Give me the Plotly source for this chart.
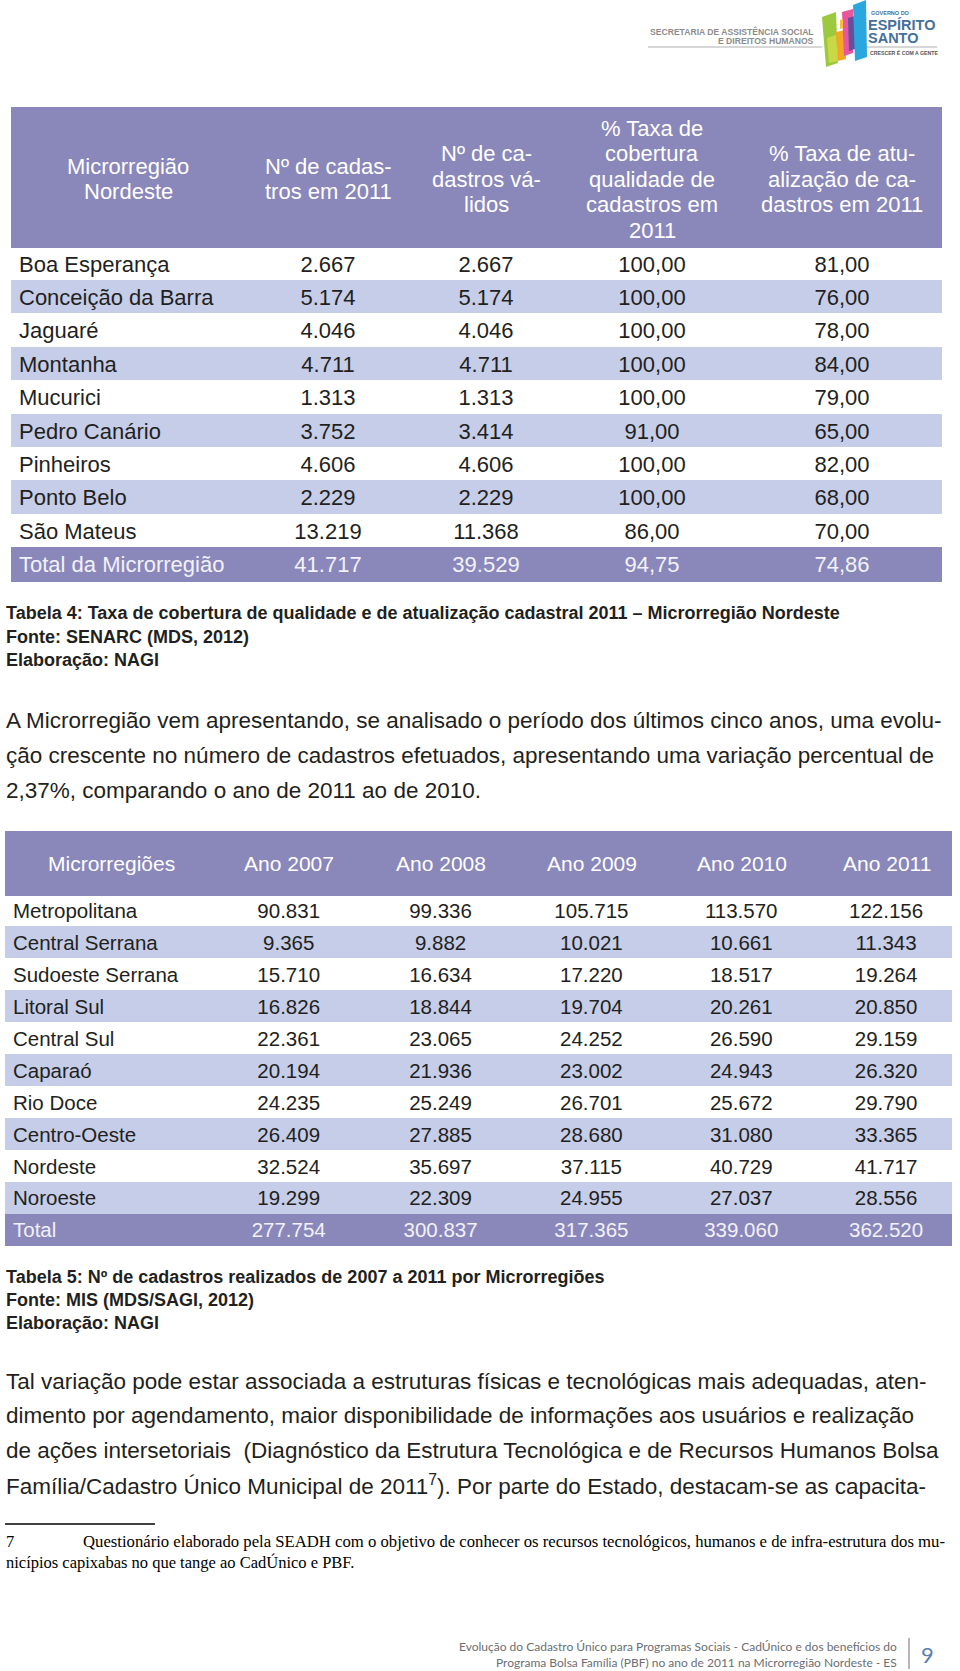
import plotly.graph_objects as go

W, H = 960, 1671

# ---------------- data: Tabela 4 ----------------
t4_headers = ["Microrregião<br>Nordeste", "Nº de cadas-<br>tros em 2011", "Nº de ca-<br>dastros vá-<br>lidos",
              "% Taxa de<br>cobertura<br>qualidade de<br>cadastros em<br>2011",
              "% Taxa de atu-<br>alização de ca-<br>dastros em 2011"]
t4_regions = ["Boa Esperança", "Conceição da Barra", "Jaguaré", "Montanha", "Mucurici", "Pedro Canário",
              "Pinheiros", "Ponto Belo", "São Mateus", "Total da Microrregião"]
t4_cadastros = [2667, 5174, 4046, 4711, 1313, 3752, 4606, 2229, 13219, 41717]
t4_validos = [2667, 5174, 4046, 4711, 1313, 3414, 4606, 2229, 11368, 39529]
t4_cobertura = [100.00, 100.00, 100.00, 100.00, 100.00, 91.00, 100.00, 100.00, 86.00, 94.75]
t4_atualizacao = [81.00, 76.00, 78.00, 84.00, 79.00, 65.00, 82.00, 68.00, 70.00, 74.86]

# ---------------- data: Tabela 5 ----------------
t5_headers = ["Microrregiões", "Ano 2007", "Ano 2008", "Ano 2009", "Ano 2010", "Ano 2011"]
t5_regions = ["Metropolitana", "Central Serrana", "Sudoeste Serrana", "Litoral Sul", "Central Sul", "Caparaó",
              "Rio Doce", "Centro-Oeste", "Nordeste", "Noroeste", "Total"]
t5_2007 = [90831, 9365, 15710, 16826, 22361, 20194, 24235, 26409, 32524, 19299, 277754]
t5_2008 = [99336, 9882, 16634, 18844, 23065, 21936, 25249, 27885, 35697, 22309, 300837]
t5_2009 = [105715, 10021, 17220, 19704, 24252, 23002, 26701, 28680, 37115, 24955, 317365]
t5_2010 = [113570, 10661, 18517, 20261, 26590, 24943, 25672, 31080, 40729, 27037, 339060]
t5_2011 = [122156, 11343, 19264, 20850, 29159, 26320, 29790, 33365, 41717, 28556, 362520]

# ---------------- texts ----------------
cap4 = ["Tabela 4: Taxa de cobertura de qualidade e de atualização cadastral 2011 – Microrregião Nordeste",
        "Fonte: SENARC (MDS, 2012)", "Elaboração: NAGI"]
cap5 = ["Tabela 5: Nº de cadastros realizados de 2007 a 2011 por Microrregiões",
        "Fonte: MIS (MDS/SAGI, 2012)", "Elaboração: NAGI"]
para1 = ["A Microrregião vem apresentando, se analisado o período dos últimos cinco anos, uma evolu-",
         "ção crescente no número de cadastros efetuados, apresentando uma variação percentual de",
         "2,37%, comparando o ano de 2011 ao de 2010."]
para2 = ["Tal variação pode estar associada a estruturas físicas e tecnológicas mais adequadas, aten-",
         "dimento por agendamento, maior disponibilidade de informações aos usuários e realização",
         "de ações intersetoriais  (Diagnóstico da Estrutura Tecnológica e de Recursos Humanos Bolsa",
         "Família/Cadastro Único Municipal de 2011<sup>7</sup>). Por parte do Estado, destacam-se as capacita-"]
foot_note = ["Questionário elaborado pela SEADH com o objetivo de conhecer os recursos tecnológicos, humanos e de infra-estrutura dos mu-",
             "nicípios capixabas no que tange ao CadÚnico e PBF."]
footer = ["Evolução do Cadastro Único para Programas Sociais - CadÚnico e dos benefícios do",
          "Programa Bolsa Família (PBF) no ano de 2011 na Microrregião Nordeste - ES"]

PURPLE = "#8A87BA"
LIGHT = "#C5CDE8"
DARK = "#231F20"
TOTAL_TXT = "#F2F2FA"
SANS = "Liberation Sans, Arial, Helvetica, sans-serif"


def fmt_int(v):
    return f"{v:,}".replace(",", ".")


def fmt_dec(v):
    return f"{v:.2f}".replace(".", ",")


def px(x):
    return x / W


def py(y):
    return 1 - y / H


fig = go.Figure()
annotations = []
shapes = []


def text(x, y, s, size, color=DARK, anchor="left", family=SANS, bold=False):
    annotations.append(dict(x=px(x), y=py(y), xref="paper", yref="paper", text=(f"<b>{s}</b>" if bold else s),
                            showarrow=False, xanchor=anchor, yanchor="middle",
                            font=dict(family=family, size=size, color=color)))


def row_fills(n):
    return [("white" if i % 2 == 0 else LIGHT) for i in range(n - 1)] + [PURPLE]


# ---------------- Tabela 4 ----------------
t4_left, t4_top = 11, 107
t4_colw = [234, 166, 150, 182, 198]
t4_head_h, t4_row_h = 140, 33.4
t4_n = len(t4_regions)
t4_bottom = t4_top + t4_head_h + t4_n * t4_row_h
fills4 = row_fills(t4_n)
fcol4 = [DARK] * (t4_n - 1) + [TOTAL_TXT]
fig.add_trace(go.Table(
    domain=dict(x=[px(t4_left), px(t4_left + sum(t4_colw))], y=[py(t4_bottom + 4), py(t4_top)]),
    columnwidth=t4_colw,
    header=dict(values=[""] * 5, height=t4_head_h, fill_color=PURPLE, line=dict(width=1, color=PURPLE)),
    cells=dict(values=[t4_regions, [fmt_int(v) for v in t4_cadastros], [fmt_int(v) for v in t4_validos],
                       [fmt_dec(v) for v in t4_cobertura], [fmt_dec(v) for v in t4_atualizacao]],
               height=t4_row_h, align=["left", "center", "center", "center", "center"],
               fill_color=[fills4] * 5, line=dict(width=1, color=[fills4] * 5),
               font=dict(family=SANS, size=22, color=[fcol4] * 5)),
))
x = t4_left
for w, h in zip(t4_colw, t4_headers):
    lines = h.split("<br>")
    n = len(lines)
    for i, ln in enumerate(lines):
        text(x + w / 2, 179 + (i - (n - 1) / 2) * 25.5, ln, 22, "white", "center")
    x += w

# ---------------- Tabela 5 ----------------
t5_left, t5_top = 5, 831
t5_colw = [212, 144, 160, 142, 158, 132]
t5_head_h, t5_row_h = 64, 31.9
t5_n = len(t5_regions)
t5_bottom = t5_top + t5_head_h + t5_n * t5_row_h
fills5 = row_fills(t5_n)
fcol5 = [DARK] * (t5_n - 1) + [TOTAL_TXT]
fig.add_trace(go.Table(
    domain=dict(x=[px(t5_left), px(t5_left + sum(t5_colw))], y=[py(t5_bottom + 4), py(t5_top)]),
    columnwidth=t5_colw,
    header=dict(values=[""] * 6, height=t5_head_h, fill_color=PURPLE, line=dict(width=1, color=PURPLE)),
    cells=dict(values=[t5_regions] + [[fmt_int(v) for v in col] for col in (t5_2007, t5_2008, t5_2009, t5_2010, t5_2011)],
               height=t5_row_h, align=["left"] + ["center"] * 5,
               fill_color=[fills5] * 6, line=dict(width=1, color=[fills5] * 6),
               font=dict(family=SANS, size=20.5, color=[fcol5] * 6)),
))
x = t5_left
for w, h in zip(t5_colw, t5_headers):
    text(x + w / 2, t5_top + t5_head_h / 2, h, 21, "white", "center")
    x += w

# ---------------- captions & paragraphs ----------------
for i, s in enumerate(cap4):
    text(4, 613 + i * 23.5, s, 18, DARK, "left", bold=True)
for i, s in enumerate(cap5):
    text(4, 1277 + i * 23.2, s, 18, DARK, "left", bold=True)
for i, s in enumerate(para1):
    text(4, 720 + i * 35, s, 22.5)
for i, s in enumerate(para2):
    text(4, 1381 + i * 34.5, s, 22.5)

# footnote
shapes.append(dict(type="line", xref="paper", yref="paper", x0=px(5), x1=px(155), y0=py(1524), y1=py(1524),
                   line=dict(color="black", width=1.5)))
SERIF = "Liberation Serif, Times New Roman, serif"
text(4, 1541, "7", 16.5, "black", family=SERIF)
text(81, 1541, foot_note[0], 16.7, "black", family=SERIF)
text(4, 1562, foot_note[1], 16.5, "black", family=SERIF)

# footer
for i, s in enumerate(footer):
    text(899, 1646 + i * 16, s, 12, "#6D6E71", "right", family="Lato, Noto Sans, sans-serif")
shapes.append(dict(type="line", xref="paper", yref="paper", x0=px(909), x1=px(909), y0=py(1638), y1=py(1669),
                   line=dict(color="#6D6E71", width=1)))
text(927, 1654, "9", 22, "#5A7FAE", "center", family="Lato, Noto Sans, sans-serif")

# ---------------- logo ----------------
GRAY = "#8C8C8C"
text(816, 31, "SECRETARIA DE ASSISTÊNCIA SOCIAL", 8.6, GRAY, "right", bold=True)
text(816, 41, "E DIREITOS HUMANOS", 8.6, GRAY, "right", bold=True)
shapes.append(dict(type="line", xref="paper", yref="paper", x0=px(648), x1=px(822), y0=py(47), y1=py(47),
                   line=dict(color="#B0B0B0", width=1)))
shapes.append(dict(type="line", xref="paper", yref="paper", x0=px(866), x1=px(937), y0=py(47), y1=py(47),
                   line=dict(color="#B0B0B0", width=1)))


def poly(pts, color):
    d = "M " + " L ".join(f"{px(a)},{py(b)}" for a, b in pts) + " Z"
    shapes.append(dict(type="path", xref="paper", yref="paper", path=d, fillcolor=color, line=dict(width=0)))


poly([(822, 17), (836, 12), (838, 63), (826, 67)], "#9CC93E")
poly([(827, 38), (836, 35), (838, 61), (829, 63)], "#C9D846")
poly([(836, 32), (845, 30), (846, 59), (838, 61)], "#F5A623")
poly([(842, 12), (853, 9), (853, 53), (844, 56)], "#E8579B")
poly([(848, 18), (855, 16), (855, 49), (849, 51)], "#6A4C9C")
poly([(853, 5), (866, 0), (867, 57), (855, 61)], "#2AA7DF")
poly([(840, 20), (843, 19), (843, 28), (840, 29)], "#F9C233")

BLUE = "#46709B"
text(869, 13, "GOVERNO DO", 5.5, BLUE, "left", bold=True)
text(866, 25, "ESPÍRITO", 14.5, BLUE, "left", bold=True)
text(866, 38.5, "SANTO", 14.5, BLUE, "left", bold=True)
text(868, 53, "CRESCER É COM A GENTE", 5.2, "#555555", "left", bold=True)

fig.update_layout(width=W, height=H, margin=dict(l=0, r=0, t=0, b=0), paper_bgcolor="white",
                  plot_bgcolor="white", showlegend=False, annotations=annotations, shapes=shapes)
fig.write_html("out.html", config={"displayModeBar": False},
               post_script="document.body.style.margin='0';document.body.style.overflow='hidden';")
